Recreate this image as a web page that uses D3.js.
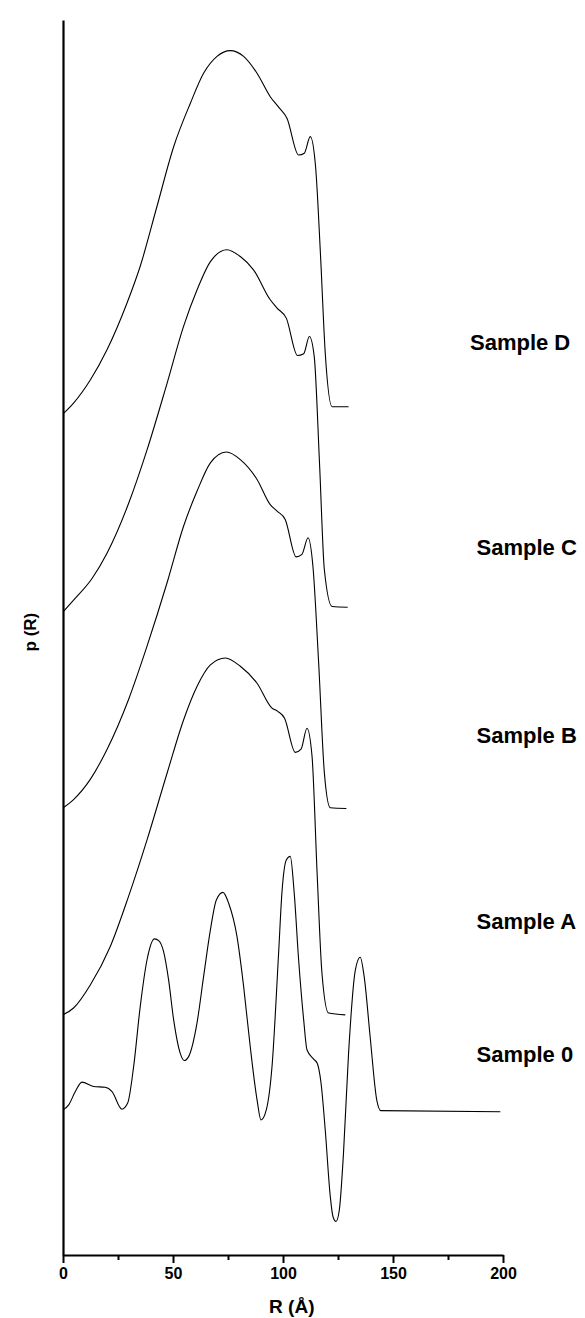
<!DOCTYPE html>
<html>
<head>
<meta charset="utf-8">
<script src="https://cdn.jsdelivr.net/npm/d3@7"></script>
<style>
  body { margin: 0; background: #fff; }
  svg { display: block; }
  text { font-family: "Liberation Sans", Arial, sans-serif; font-weight: bold; fill: #000; }
</style>
</head>
<body>
<svg></svg>
<script>
// p(R) curves: [R (Å), p (arb. units)]
let sampleD = [[0,0],[4.8,0.03],[12.4,0.094],[20,0.178],[29.1,0.308],[35.1,0.41],[42.7,0.576],[50.3,0.742],[57.9,0.863],[63.9,0.946],[70,0.993],[76,1.009],[82.1,0.993],[88.2,0.946],[94.2,0.881],[98,0.852],[101.8,0.821],[107.1,0.719],[109.7,0.724],[112.4,0.77],[114.8,0.687],[117,0.447],[119.2,0.169],[122.3,0.02],[129.8,0.02]];
let sampleC = [[0,0],[4.8,0.033],[13.2,0.093],[20,0.163],[29.8,0.301],[38.2,0.45],[47.3,0.635],[54.8,0.793],[60.9,0.894],[67,0.973],[74.5,1.006],[80.6,0.987],[86.6,0.95],[94.2,0.867],[97.3,0.844],[101.5,0.816],[106.6,0.712],[109.4,0.717],[112,0.765],[114.2,0.709],[116.6,0.413],[118.8,0.117],[122.3,0.015],[129.4,0.013]];
let sampleB = [[0,0],[4.8,0.023],[12.4,0.079],[20,0.162],[29.8,0.301],[38.2,0.449],[47.3,0.625],[54.8,0.782],[60.9,0.879],[67,0.958],[74.2,0.988],[80.6,0.967],[88.2,0.912],[94.2,0.842],[97.3,0.824],[101,0.801],[106,0.697],[108.6,0.704],[111.4,0.75],[113.6,0.671],[116.2,0.403],[118.8,0.097],[121.5,0],[128.8,-0.002]];
let sampleA = [[0,0],[4.8,0.019],[12.4,0.083],[21.5,0.19],[29.8,0.329],[38.2,0.486],[47.3,0.671],[54.8,0.819],[60.9,0.912],[67,0.972],[73.8,0.991],[80.6,0.968],[88.2,0.921],[95,0.852],[97.6,0.843],[100.7,0.824],[105.6,0.729],[108.2,0.738],[110.9,0.796],[113.2,0.718],[115.5,0.394],[117.7,0.116],[120.7,0.005],[128.3,0]];
let sample0 = [[0,0],[2.6,0.014],[5.6,0.051],[8.6,0.077],[13.9,0.065],[19.2,0.063],[22.3,0.051],[26.8,0.002],[29.4,0.019],[32.1,0.12],[35.1,0.287],[38.2,0.417],[41.6,0.475],[43.5,0.47],[45.7,0.44],[48,0.361],[50.3,0.25],[53.3,0.157],[55.1,0.137],[57.1,0.148],[60.9,0.241],[63.9,0.37],[67,0.5],[69.7,0.583],[72.7,0.604],[75.3,0.574],[79.1,0.481],[82.1,0.343],[85.1,0.176],[88.2,0.028],[90,-0.028],[92.4,0],[95,0.12],[98,0.435],[99.5,0.602],[101.5,0.694],[103.3,0.704],[105.1,0.602],[107.1,0.417],[109.4,0.25],[110.9,0.167],[113.9,0.141],[115.5,0.13],[117.3,0.074],[119.2,-0.056],[121.5,-0.241],[122.7,-0.296],[124.1,-0.31],[125.6,-0.278],[127.5,-0.12],[129.8,0.157],[132.9,0.389],[135.1,0.424],[136.9,0.37],[139.6,0.204],[142.6,0.028],[144.5,-0.002],[198.8,-0.005]];

let sampleNames = ['Sample D', 'Sample C', 'Sample B', 'Sample A', 'Sample 0'];
let sampleCurves = [sampleD, sampleC, sampleB, sampleA, sample0];
// vertical stacking offset of each curve
let offsets = [2.336, 1.786, 1.242, 0.667, 0.403];

let xTicks = [0, 50, 100, 150, 200];
let xMinorTicks = [25, 75, 125, 175];

let width = 585;
let height = 1318;
let margin = {top: 20, right: 82, bottom: 63, left: 63};

let svg = d3.select('svg')
  .attr('width', width)
  .attr('height', height);

let xScale = d3.scaleLinear()
  .domain([0, 200])
  .range([margin.left, width - margin.right]);

let yScale = d3.scaleLinear()
  .domain([0, 3.43])
  .range([height - margin.bottom, margin.top]);

let drawCurves = () => {
  let line = d3.line()
    .x(d => xScale(d[0]))
    .y(d => d.y)
    .curve(d3.curveMonotoneX);

  sampleCurves.forEach((pts, i) => {
    let shifted = pts.map(p => {
      let q = [p[0], p[1]];
      q.y = yScale(p[1] + offsets[i]);
      return q;
    });
    svg.append('path')
      .datum(shifted)
      .attr('class', 'curve')
      .attr('fill', 'none')
      .attr('stroke', '#000')
      .attr('stroke-width', 1.1)
      .attr('d', line);
  });
};

let drawAxes = () => {
  let xAxis = d3.axisBottom(xScale)
    .tickValues(xTicks)
    .tickSize(8)
    .tickSizeOuter(0)
    .tickPadding(5);

  let gx = svg.append('g')
    .attr('id', 'x-axis')
    .attr('transform', 'translate(0,' + (height - margin.bottom) + ')')
    .call(xAxis);
  gx.select('.domain').attr('stroke-width', 2.2);
  gx.selectAll('.tick line').attr('stroke-width', 2);
  gx.selectAll('text').style('font-size', '16px');

  let xMinor = d3.axisBottom(xScale)
    .tickValues(xMinorTicks)
    .tickSize(5)
    .tickSizeOuter(0)
    .tickFormat('');
  let gm = svg.append('g')
    .attr('transform', 'translate(0,' + (height - margin.bottom) + ')')
    .call(xMinor);
  gm.select('.domain').remove();
  gm.selectAll('.tick line').attr('stroke-width', 2);

  let yAxis = d3.axisLeft(yScale).tickValues([]).tickSizeOuter(0);
  let gy = svg.append('g')
    .attr('id', 'y-axis')
    .attr('transform', 'translate(' + margin.left + ',0)')
    .call(yAxis);
  gy.select('.domain').attr('stroke-width', 2.2);

  svg.append('text')
    .attr('x', xScale(104))
    .attr('y', height - 5)
    .attr('text-anchor', 'middle')
    .style('font-size', '19px')
    .text('R (Å)');

  svg.append('text')
    .attr('transform', 'translate(36,' + yScale(1.73) + ') rotate(-90)')
    .attr('text-anchor', 'middle')
    .style('font-size', '17px')
    .text('p (R)');
};

let drawLabels = () => {
  let labelX = [185, 188, 188, 188, 188];
  let labelDy = [0.2, 0.18, 0.2, 0.26, 0.155];
  svg.selectAll('.sample-label')
    .data(sampleNames)
    .enter()
    .append('text')
    .attr('class', 'sample-label')
    .attr('x', (d, i) => xScale(labelX[i]))
    .attr('y', (d, i) => yScale(offsets[i] + labelDy[i]))
    .attr('dy', '0.35em')
    .style('font-size', '22px')
    .text(d => d);
};

drawCurves();
drawAxes();
drawLabels();
</script>
</body>
</html>
